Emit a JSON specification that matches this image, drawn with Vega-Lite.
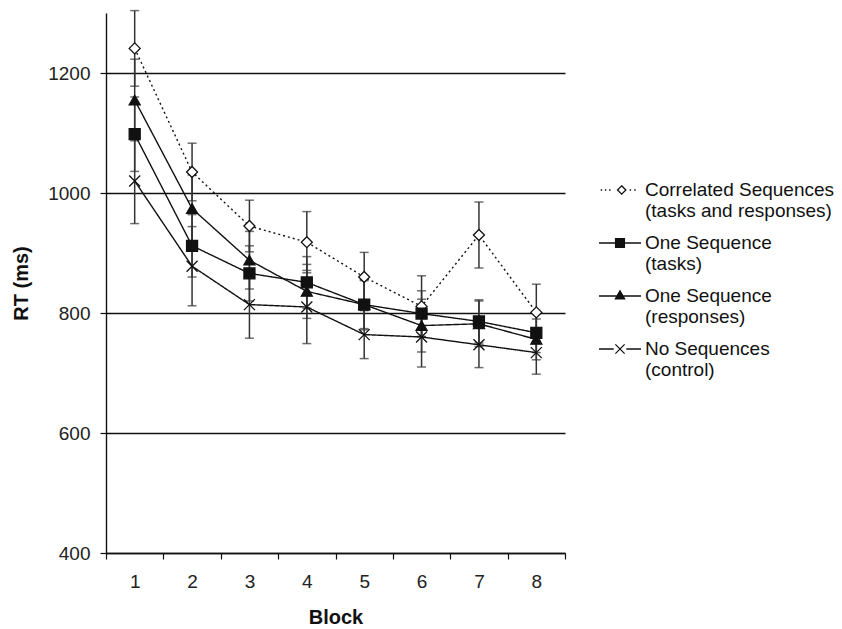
{
  "$schema": "https://vega.github.io/schema/vega-lite/v6.json",
  "width": 459,
  "height": 540,
  "autosize": {"type": "none"},
  "padding": {"left": 106, "top": 13, "right": 277, "bottom": 76},
  "background": "white",
  "config": {
    "font": "Liberation Sans",
    "view": {"stroke": null},
    "axis": {"labelFont": "Liberation Sans", "titleFont": "Liberation Sans", "labelFontSize": 19, "titleFontSize": 20, "titleFontWeight": "bold", "labelColor": "#222", "titleColor": "#111", "domainColor": "#111", "tickColor": "#111", "domainWidth": 1.4, "tickWidth": 1.2, "tickSize": 6}
  },
  "data": {
    "values": [
      {"Block": 1, "Series": "Correlated Sequences (tasks and responses)", "RT": 1241, "SE": 63},
      {"Block": 2, "Series": "Correlated Sequences (tasks and responses)", "RT": 1035, "SE": 48},
      {"Block": 3, "Series": "Correlated Sequences (tasks and responses)", "RT": 945, "SE": 43},
      {"Block": 4, "Series": "Correlated Sequences (tasks and responses)", "RT": 918, "SE": 51},
      {"Block": 5, "Series": "Correlated Sequences (tasks and responses)", "RT": 860, "SE": 41},
      {"Block": 6, "Series": "Correlated Sequences (tasks and responses)", "RT": 811, "SE": 51},
      {"Block": 7, "Series": "Correlated Sequences (tasks and responses)", "RT": 930, "SE": 55},
      {"Block": 8, "Series": "Correlated Sequences (tasks and responses)", "RT": 801, "SE": 47},
      {"Block": 1, "Series": "One Sequence (tasks)", "RT": 1098, "SE": 62},
      {"Block": 2, "Series": "One Sequence (tasks)", "RT": 912, "SE": 52},
      {"Block": 3, "Series": "One Sequence (tasks)", "RT": 866, "SE": 46},
      {"Block": 4, "Series": "One Sequence (tasks)", "RT": 851, "SE": 43},
      {"Block": 5, "Series": "One Sequence (tasks)", "RT": 814, "SE": 40},
      {"Block": 6, "Series": "One Sequence (tasks)", "RT": 799, "SE": 38},
      {"Block": 7, "Series": "One Sequence (tasks)", "RT": 786, "SE": 36},
      {"Block": 8, "Series": "One Sequence (tasks)", "RT": 767, "SE": 33},
      {"Block": 1, "Series": "One Sequence (responses)", "RT": 1155, "SE": 68},
      {"Block": 2, "Series": "One Sequence (responses)", "RT": 974, "SE": 56},
      {"Block": 3, "Series": "One Sequence (responses)", "RT": 888, "SE": 48},
      {"Block": 4, "Series": "One Sequence (responses)", "RT": 836, "SE": 45},
      {"Block": 5, "Series": "One Sequence (responses)", "RT": 814, "SE": 42},
      {"Block": 6, "Series": "One Sequence (responses)", "RT": 779, "SE": 44},
      {"Block": 7, "Series": "One Sequence (responses)", "RT": 782, "SE": 38},
      {"Block": 8, "Series": "One Sequence (responses)", "RT": 756, "SE": 34},
      {"Block": 1, "Series": "No Sequences (control)", "RT": 1020, "SE": 71},
      {"Block": 2, "Series": "No Sequences (control)", "RT": 878, "SE": 66},
      {"Block": 3, "Series": "No Sequences (control)", "RT": 814, "SE": 56},
      {"Block": 4, "Series": "No Sequences (control)", "RT": 810, "SE": 61},
      {"Block": 5, "Series": "No Sequences (control)", "RT": 764, "SE": 40},
      {"Block": 6, "Series": "No Sequences (control)", "RT": 760, "SE": 50},
      {"Block": 7, "Series": "No Sequences (control)", "RT": 747, "SE": 38},
      {"Block": 8, "Series": "No Sequences (control)", "RT": 734, "SE": 36}
    ]
  },
  "encoding": {
    "x": {
      "field": "Block", "type": "ordinal",
      "scale": {"type": "band", "paddingInner": 0, "paddingOuter": 0},
      "axis": {"title": "Block", "labelAngle": 0, "tickBand": "extent", "labelPadding": 13, "titlePadding": 16, "grid": false}
    },
    "y": {
      "field": "RT", "type": "quantitative",
      "scale": {"domain": [400, 1300], "nice": false, "zero": false},
      "axis": {"title": "RT (ms)", "format": "d", "values": [400, 600, 800, 1000, 1200], "grid": true, "gridColor": "#111", "gridWidth": 1.3, "labelPadding": 10, "titlePadding": 16}
    }
  },
  "layer": [
    {
      "mark": {"type": "errorbar", "color": "#333", "thickness": 1.5, "ticks": {"size": 9, "thickness": 1.5}},
      "encoding": {
        "yError": {"field": "SE"},
        "detail": {"field": "Series", "type": "nominal"}
      }
    },
    {
      "mark": {"type": "line", "color": "#111", "strokeWidth": 1.4},
      "encoding": {
        "strokeDash": {
          "field": "Series", "type": "nominal", "legend": null,
          "scale": {"domain": ["Correlated Sequences (tasks and responses)", "One Sequence (tasks)", "One Sequence (responses)", "No Sequences (control)"], "range": [[2, 3], [1, 0], [1, 0], [1, 0]]}
        }
      }
    },
    {
      "mark": {"type": "point", "filled": false, "stroke": "#111", "strokeWidth": 1.3, "size": 121, "opacity": 1},
      "encoding": {
        "shape": {
          "field": "Series", "type": "nominal", "legend": null,
          "scale": {"domain": ["Correlated Sequences (tasks and responses)", "One Sequence (tasks)", "One Sequence (responses)", "No Sequences (control)"], "range": ["diamond", "square", "triangle-up", "M-1,-1L1,1M-1,1L1,-1"]}
        },
        "fill": {
          "field": "Series", "type": "nominal", "legend": null,
          "scale": {"domain": ["Correlated Sequences (tasks and responses)", "One Sequence (tasks)", "One Sequence (responses)", "No Sequences (control)"], "range": ["white", "#111", "#111", "transparent"]}
        }
      }
    },
    {
      "mark": {"type": "point", "filled": false, "strokeWidth": 1.3, "size": 1764, "opacity": 0},
      "encoding": {
        "shape": {
          "field": "Series", "type": "nominal",
          "scale": {"domain": ["Correlated Sequences (tasks and responses)", "One Sequence (tasks)", "One Sequence (responses)", "No Sequences (control)"], "range": [
            "M-0.92,0h0.07M-0.72,0h0.07M-0.52,0h0.07M0.46,0h0.07M0.68,0h0.07M0.08,-0.2L0.28,0L0.08,0.2L-0.12,0Z",
            "M-1,0H-0.21M0.21,0H1M-0.21,-0.21H0.21V0.21H-0.21Z",
            "M-1,0H1M0,-0.25L0.22,0.14H-0.22Z",
            "M-1,0H-0.3M0.3,0H1M-0.22,-0.22L0.22,0.22M-0.22,0.22L0.22,-0.22"
          ]},
          "legend": {"title": null, "orient": "none", "legendX": 492, "legendY": 155, "padding": 0, "symbolSize": 1764, "symbolStrokeWidth": 1.3, "symbolOpacity": 1, "labelFontSize": 19, "labelFont": "Liberation Sans", "labelColor": "#111", "labelLimit": 400, "labelOffset": 3, "rowPadding": -6, "labelExpr": "split(replace(datum.label, ' (', '|('), '|')"}
        },
        "fill": {
          "field": "Series", "type": "nominal",
          "scale": {"domain": ["Correlated Sequences (tasks and responses)", "One Sequence (tasks)", "One Sequence (responses)", "No Sequences (control)"], "range": ["white", "#111", "#111", "transparent"]},
          "legend": {"title": null, "orient": "none", "legendX": 492, "legendY": 155, "padding": 0, "symbolSize": 1764, "symbolStrokeWidth": 1.3, "symbolOpacity": 1, "labelFontSize": 19, "labelFont": "Liberation Sans", "labelColor": "#111", "labelLimit": 400, "labelOffset": 3, "rowPadding": -6, "labelExpr": "split(replace(datum.label, ' (', '|('), '|')"}
        },
        "stroke": {
          "field": "Series", "type": "nominal",
          "scale": {"domain": ["Correlated Sequences (tasks and responses)", "One Sequence (tasks)", "One Sequence (responses)", "No Sequences (control)"], "range": ["#111", "#111", "#111", "#111"]},
          "legend": {"title": null, "orient": "none", "legendX": 492, "legendY": 155, "padding": 0, "symbolSize": 1764, "symbolStrokeWidth": 1.3, "symbolOpacity": 1, "labelFontSize": 19, "labelFont": "Liberation Sans", "labelColor": "#111", "labelLimit": 400, "labelOffset": 3, "rowPadding": -6, "labelExpr": "split(replace(datum.label, ' (', '|('), '|')"}
        }
      }
    }
  ],
  "resolve": {"scale": {"shape": "independent", "fill": "independent", "stroke": "independent"}, "legend": {"shape": "independent", "fill": "independent", "stroke": "independent"}}
}
